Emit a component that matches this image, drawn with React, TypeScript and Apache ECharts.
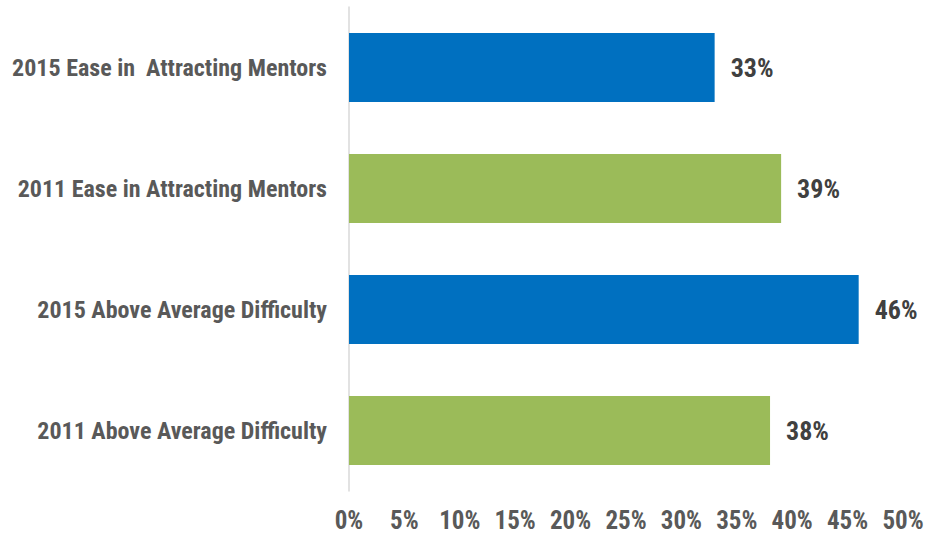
import React, { useEffect, useRef } from "react";
import * as echarts from "echarts";

const categories = [
  "2015 Ease in  Attracting Mentors",
  "2011 Ease in Attracting Mentors",
  "2015 Above Average Difficulty",
  "2011 Above Average Difficulty",
];
const values = [33, 39, 46, 38];
const barColors = ["#0070C0", "#9BBB59", "#0070C0", "#9BBB59"];
const axisMin = 0;
const axisMax = 50;
const axisStep = 5;

const FONT = "'Roboto Condensed', 'Liberation Sans Narrow', 'Arial Narrow', sans-serif";

export default function App() {
  const ref = useRef<HTMLDivElement>(null);
  useEffect(() => {
    document.body.style.margin = "0";
    if (!ref.current) return;
    const chart = echarts.init(ref.current, null, { renderer: "svg" });
    chart.setOption({
      animation: false,
      backgroundColor: "#ffffff",
      grid: { left: 349, right: 40, top: 7, bottom: 61, containLabel: false, outerBoundsMode: "none" },
      xAxis: {
        type: "value",
        min: axisMin,
        max: axisMax,
        interval: axisStep,
        axisLine: { show: false },
        axisTick: { show: false },
        splitLine: { show: false },
        axisLabel: {
          formatter: (v: number) => `${v}%`,
          color: "#595959",
          fontFamily: FONT,
          fontWeight: "bold",
          fontSize: 25,
          margin: 17,
        },
      },
      yAxis: {
        type: "category",
        data: categories,
        inverse: true,
        axisLine: { show: true, lineStyle: { color: "#D9D9D9", width: 1.5 } },
        axisTick: { show: false },
        axisLabel: {
          color: "#595959",
          fontFamily: FONT,
          fontWeight: "bold",
          fontSize: 24,
          margin: 22,
        },
      },
      series: [
        {
          type: "bar",
          data: values.map((v, i) => ({ value: v, itemStyle: { color: barColors[i] } })),
          barCategoryGap: "43%",
          label: {
            show: true,
            position: "right",
            distance: 16,
            formatter: (p: any) => `${p.value}%`,
            color: "#404040",
            fontFamily: FONT,
            fontWeight: "bold",
            fontSize: 26,
          },
        },
      ],
    });
    return () => chart.dispose();
  }, []);
  return <div ref={ref} style={{ width: 943, height: 552 }} />;
}
